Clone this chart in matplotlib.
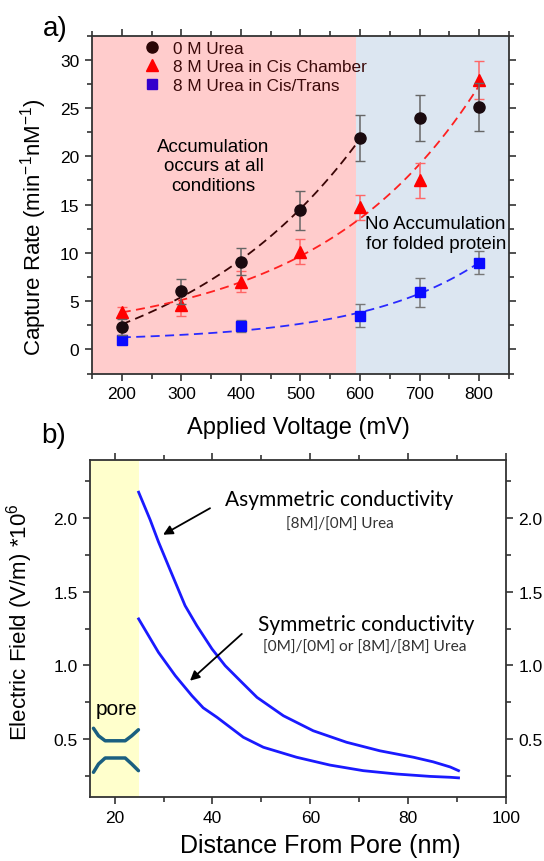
import matplotlib
matplotlib.use("Agg")
import matplotlib.pyplot as plt
import numpy as np
from matplotlib.ticker import MultipleLocator
from matplotlib.lines import Line2D

plt.rcParams['font.family'] = ['Liberation Sans', 'DejaVu Sans']
plt.rcParams['mathtext.fontset'] = 'custom'
plt.rcParams['mathtext.rm'] = 'Liberation Sans'
plt.rcParams['mathtext.it'] = 'Liberation Sans:italic'

# panel a data
voltage = [200, 300, 400, 500, 600, 700, 800]
rate_0m = [2.3, 6.0, 9.1, 14.4, 21.9, 24.0, 25.1]
err_0m = [0.8, 1.3, 1.4, 2.0, 2.35, 2.4, 2.5]
rate_cis = [3.9, 4.6, 7.0, 10.1, 14.7, 17.5, 27.9]
err_cis = [0.5, 1.1, 1.1, 1.3, 1.3, 1.8, 2.0]
volt_ct = [200, 400, 600, 700, 800]
rate_ct = [1.0, 2.4, 3.5, 5.9, 9.0]
err_ct = [0.3, 0.6, 1.2, 1.5, 1.2]
series_labels = ['0 M Urea', '8 M Urea in Cis Chamber', '8 M Urea in Cis/Trans']

# panel b data
dist_asym = [24.9, 27.25, 28.95, 31.0, 34.4, 36.8, 39.9, 42.6, 46.0, 49.1, 54.5,
             60.6, 67.4, 74.2, 81.1, 85.1, 88.6, 90.3]
field_asym = [2.177, 1.99, 1.840, 1.676, 1.406, 1.270, 1.112, 0.998, 0.885, 0.783, 0.658,
              0.556, 0.478, 0.420, 0.376, 0.345, 0.31, 0.285]
dist_sym = [24.9, 28.95, 32.4, 35.8, 38.1, 40.9, 43.6, 46.3, 50.4, 57.2, 64.0,
            70.8, 77.7, 84.5, 88.6, 90.3]
field_sym = [1.316, 1.089, 0.930, 0.794, 0.712, 0.648, 0.580, 0.512, 0.444, 0.376, 0.323,
             0.285, 0.262, 0.246, 0.240, 0.236]

# pore sketch (data coords)
pore_x = [15.67, 16.7, 18.06, 22.15, 23.5, 24.86]
pore_top = [0.573, 0.522, 0.488, 0.488, 0.522, 0.563]
pore_bot = [0.274, 0.330, 0.371, 0.371, 0.330, 0.285]


def exp_fit(x, y):
    # y = c + A*exp(b*x), grid over b
    x = np.asarray(x, float)
    y = np.asarray(y, float)
    best = None
    for b in np.linspace(0.0005, 0.02, 800):
        M = np.column_stack([np.ones_like(x), np.exp(b * x)])
        coef, *_ = np.linalg.lstsq(M, y, rcond=None)
        r = np.sum((M @ coef - y) ** 2)
        if best is None or r < best[0]:
            best = (r, b, coef)
    _, b, coef = best
    return lambda t: coef[0] + coef[1] * np.exp(b * t)


def style_axes(ax):
    for s in ax.spines.values():
        s.set_color('#333333')
        s.set_linewidth(1.3)
    ax.tick_params(which='both', direction='out', color='#333333', width=1.2,
                   top=True, right=True, labelsize=12.5, pad=4)
    ax.tick_params(which='major', length=5)
    ax.tick_params(which='minor', length=3.5)


fig = plt.figure(figsize=(5.44, 8.62), dpi=100)

# ---- panel a ----
ax = fig.add_axes([0.1691, 0.5655, 0.7665, 0.392])
ax.set_xlim(150, 850)
ax.set_ylim(-2.5, 32.5)
ax.axvspan(150, 593, color='#ffcccc', lw=0, zorder=0)
ax.axvspan(593, 850, color='#dce6f1', lw=0, zorder=0)

f0 = exp_fit(voltage[:5], rate_0m[:5])
fc = exp_fit(voltage, rate_cis)
ft = exp_fit(volt_ct, rate_ct)
t0 = np.linspace(200, 600, 100)
t1 = np.linspace(200, 800, 100)
ax.plot(t0, f0(t0), ls=(0, (5, 3)), color='#3a0505', lw=1.3, zorder=2)
ax.plot(t1, fc(t1), ls=(0, (5, 3)), color='#ff2020', lw=1.3, zorder=2)
ax.plot(t1, ft(t1), ls=(0, (5, 3)), color='#2a2aff', lw=1.3, zorder=2)

ax.errorbar(voltage, rate_0m, yerr=err_0m, fmt='o', color='#1a0a0f', ms=8,
            ecolor='#666666', elinewidth=1.1, capsize=3.5, zorder=4)
ax.errorbar(voltage, rate_cis, yerr=err_cis, fmt='^', color='#ff0000', ms=9,
            ecolor='#ff6666', elinewidth=1.1, capsize=3.5, zorder=3)
ax.errorbar(volt_ct, rate_ct, yerr=err_ct, fmt='s', color='#0a0aff', ms=7,
            ecolor='#777777', elinewidth=1.1, capsize=3.5, zorder=3)

handles = [Line2D([], [], ls='', marker='o', ms=8, color='#2a0505'),
           Line2D([], [], ls='', marker='^', ms=9, color='#ff0000'),
           Line2D([], [], ls='', marker='s', ms=7, color='#3300cc')]
leg = ax.legend(handles, series_labels, loc='upper left', bbox_to_anchor=(0.108, 1.005),
                frameon=False, fontsize=12.3, handlelength=1.0, handletextpad=0.7,
                labelspacing=0.2, borderaxespad=0)
for txt in leg.get_texts():
    txt.set_color('#3b0a0a')

ax.text(354, 19.0, 'Accumulation\noccurs at all\nconditions', ha='center', va='center',
        fontsize=13.5, linespacing=1.2)
ax.text(727, 12.0, 'No Accumulation\nfor folded protein', ha='center', va='center',
        fontsize=13.5, linespacing=1.2)

ax.set_xticks(range(200, 801, 100))
ax.xaxis.set_minor_locator(MultipleLocator(50))
ax.yaxis.set_major_locator(MultipleLocator(5))
ax.yaxis.set_minor_locator(MultipleLocator(2.5))
style_axes(ax)
ax.set_xlabel('Applied Voltage (mV)', fontsize=17)
ax.xaxis.set_label_coords(0.496, -0.127)
ax.set_ylabel('Capture Rate (min$^{-1}$nM$^{-1}$)', fontsize=16)
ax.yaxis.set_label_coords(-0.103, 0.435)
fig.text(0.078, 0.982, 'a)', fontsize=20, va='top')

# ---- panel b ----
bx = fig.add_axes([0.1658, 0.0739, 0.7643, 0.3917])
bx.set_xlim(15, 100)
bx.set_ylim(0.104, 2.398)
bx.axvspan(15, 24.9, color='#ffffcc', lw=0, zorder=0)
bx.plot(dist_asym, field_asym, color='#1a1aff', lw=2)
bx.plot(dist_sym, field_sym, color='#1a1aff', lw=2)
bx.plot(pore_x, pore_top, color='#1a5f80', lw=2.5, solid_capstyle='round')
bx.plot(pore_x, pore_bot, color='#1a5f80', lw=2.5, solid_capstyle='round')
bx.text(20.4, 0.704, 'pore', ha='center', va='center', fontsize=15)

bx.annotate('', xy=(29.9, 1.888), xytext=(39.5, 2.068),
            arrowprops=dict(arrowstyle='-|>', color='black', lw=1.3, mutation_scale=14,
                            shrinkA=0, shrinkB=0))
bx.annotate('', xy=(35.4, 0.896), xytext=(46.0, 1.214),
            arrowprops=dict(arrowstyle='-|>', color='black', lw=1.3, mutation_scale=14,
                            shrinkA=0, shrinkB=0))
calib = ['Lato', 'DejaVu Sans']
bx.text(65.9, 2.13, 'Asymmetric conductivity', ha='center', va='center',
        fontsize=15, family=calib)
bx.text(66.0, 1.96, '[8M]/[0M] Urea', ha='center', va='center',
        fontsize=11, color='#333333', family=calib)
bx.text(71.4, 1.28, 'Symmetric conductivity', ha='center', va='center',
        fontsize=15, family=calib)
bx.text(71.2, 1.123, '[0M]/[0M] or [8M]/[8M] Urea', ha='center', va='center',
        fontsize=11.2, color='#333333', family=calib)

bx.set_xticks([20, 40, 60, 80, 100])
bx.xaxis.set_minor_locator(MultipleLocator(10))
bx.set_yticks([0.5, 1.0, 1.5, 2.0])
bx.yaxis.set_minor_locator(MultipleLocator(0.25))
style_axes(bx)
bx.tick_params(labelright=True)
bx.set_xlabel('Distance From Pore (nm)', fontsize=18)
bx.xaxis.set_label_coords(0.553, -0.163)
bx.xaxis.label.set_va('baseline')
bx.set_ylabel('Electric Field (V/m) *10$^6$', fontsize=16)
bx.yaxis.set_label_coords(-0.133, 0.521)
fig.text(0.076, 0.509, 'b)', fontsize=20, va='top')

fig.savefig('out.png', dpi=100)
